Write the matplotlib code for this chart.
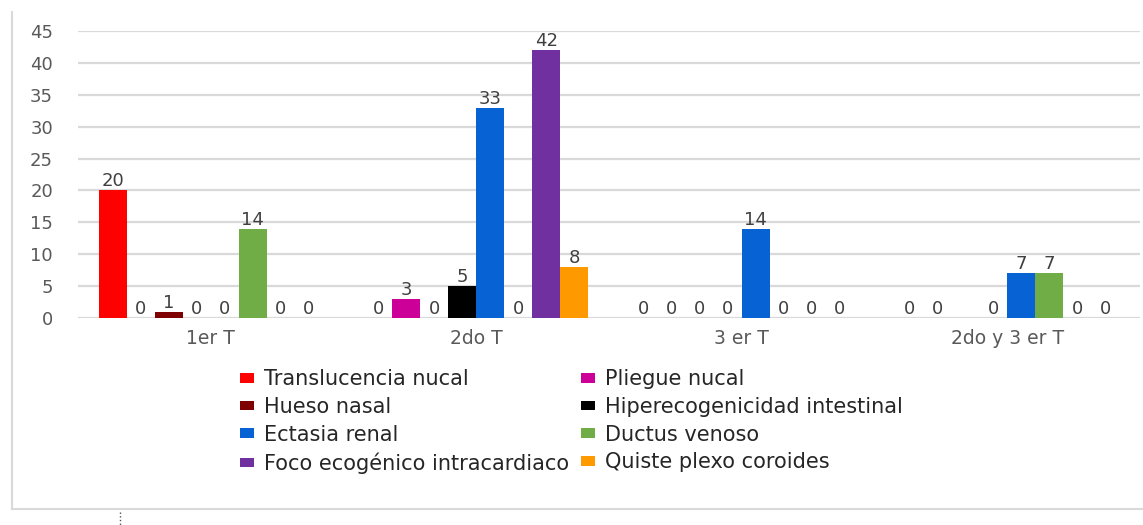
import numpy as np
import matplotlib
matplotlib.use('Agg')
import matplotlib.pyplot as plt
from matplotlib.lines import Line2D
from matplotlib import rcParams
rcParams['font.family'] = ['DejaVu Sans']

# data
groups = ['1er T', '2do T', '3 er T', '2do y 3 er T']
series = ['Translucencia nucal', 'Pliegue nucal', 'Hueso nasal',
          'Hiperecogenicidad intestinal', 'Ectasia renal', 'Ductus venoso',
          'Foco ecogénico intracardiaco', 'Quiste plexo coroides']
translucencia = [20, 0, 0, 0]
pliegue = [0, 3, 0, 0]
hueso = [1, 0, 0, np.nan]
hiperecog = [0, 5, 0, 0]
ectasia = [0, 33, 14, 7]
ductus = [14, 0, 0, 7]
foco = [0, 42, 0, 0]
quiste = [0, 8, 0, 0]
values = [translucencia, pliegue, hueso, hiperecog, ectasia, ductus, foco, quiste]
colors = ['#ff0000', '#cc0099', '#7f0000', '#000000',
          '#0763d3', '#70ad47', '#7030a0', '#ff9900']

fig = plt.figure(figsize=(11.43, 5.25), dpi=100)
ax = fig.add_axes([78/1143, 1-318/525, (1140-78)/1143, (318-31)/525])

x = np.arange(len(groups))
w = 1/9.5
bars = []
for j, (vals, col, name) in enumerate(zip(values, colors, series)):
    b = ax.bar(x + (j - 3.5)*w, vals, w, color=col, label=name, zorder=3)
    labels = ['' if np.isnan(v) else '%d' % v for v in vals]
    ax.bar_label(b, labels=labels, padding=0, fontsize=13, color='#404040')
    bars.append(b)

ax.set_xlim(-0.5, 3.5)
ax.set_ylim(0, 45)
ax.set_yticks(range(0, 46, 5))
ax.set_xticks(x)
ax.set_xticklabels(groups, fontsize=13.5)
ax.tick_params(axis='both', length=0, labelcolor='#595959')
ax.tick_params(axis='y', labelsize=13, pad=18)
ax.tick_params(axis='x', pad=8)
ax.grid(axis='y', color='#d9d9d9', lw=1.6, zorder=0)
for s in ax.spines.values():
    s.set_visible(False)

# legend, row-major order in two columns
order = [0, 2, 4, 6, 1, 3, 5, 7]
fig.legend([bars[i] for i in order], [series[i] for i in order],
           ncol=2, loc='upper left', bbox_to_anchor=(232/1143, 1-361/525),
           frameon=False, fontsize=15, labelcolor='#262626',
           handlelength=0.67, handleheight=0.35, handletextpad=0.45,
           labelspacing=0.37, columnspacing=0.6, borderaxespad=0)

# chart frame
fig.add_artist(Line2D([12/1143, 12/1143], [1-12/525, 1-509/525],
                      color='#d9d9d9', lw=1.5))
fig.add_artist(Line2D([12/1143, 1], [1-509/525, 1-509/525],
                      color='#d9d9d9', lw=1.5))
fig.add_artist(Line2D([120/1143, 120/1143], [1-512/525, 0],
                      color='#555555', lw=1, ls=':'))

fig.savefig('out.png', dpi=100)
